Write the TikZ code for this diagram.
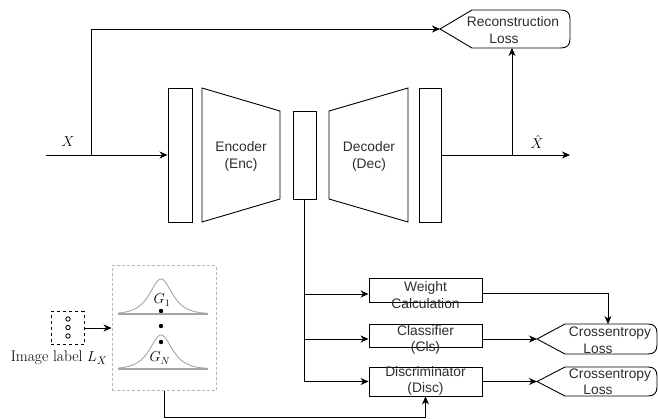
\documentclass[tikz,border=0pt]{standalone}
\usepackage{fontspec}
\usetikzlibrary{positioning, arrows.meta}
\newfontfamily\boxfont{Liberation Sans}
\definecolor{txtgray}{RGB}{45,45,45}
\definecolor{dashgray}{RGB}{185,185,185}
\definecolor{curvegray}{RGB}{165,165,165}

\tikzset{
    blk/.style={draw=black, line width=0.9pt, inner sep=0pt},
    blkline/.style={draw=black, line width=0.9pt},
    arr/.style={line width=0.9pt, -{Stealth[length=8pt, width=7pt, inset=2.5pt]}},
    txt/.style={font=\boxfont\fontsize{13.8}{16.5}\selectfont, align=center, text=txtgray, inner sep=0pt},
    mathlbl/.style={font=\fontsize{14}{17}\selectfont, inner sep=0pt},
    curve/.style={draw=curvegray, line width=0.9pt},
    baseln/.style={draw=curvegray, line width=1.6pt}
}

\begin{document}
\begin{tikzpicture}[x=1pt, y=-1pt]
    \useasboundingbox (0,0) rectangle (658,418);

    % autoencoder
    \node[blk, minimum width=24, minimum height=134] (inblk) at (180,155) {};
    \draw[blkline] (202,88) -- (280,111) -- (280,199) -- (202,222) -- cycle;
    \node[txt] (enc) at (241,156.5) {Encoder\\(Enc)};
    \node[blk, minimum width=23, minimum height=88] (zblk) at (304.5,155) {};
    \draw[blkline] (329,111) -- (408,88) -- (408,222) -- (329,199) -- cycle;
    \node[txt] (dec) at (369,156.5) {Decoder\\(Dec)};
    \node[blk, minimum width=22, minimum height=134] (outblk) at (430,155) {};

    \coordinate (xin) at (46,155);
    \coordinate (xsplit) at (91,155);
    \coordinate (xout) at (570,155);
    \coordinate (rsplit) at (512,155);
    \node[mathlbl] (xlbl) at (68,142) {$X$};
    \node[mathlbl] (xhatlbl) at (537,142) {$\hat{X}$};

    % reconstruction loss
    \draw[blkline] (440,29) -- (472,10) -- (561,10) .. controls (567,10) and (570,13) .. (570,19)
        -- (570,39) .. controls (570,45) and (567,48) .. (561,48) -- (472,48) -- cycle;
    \coordinate (recontip) at (440,29);
    \coordinate (reconbot) at (512,48);
    \node[txt] (recon) at (513,30) {Reconstruction\\\hspace*{-18pt}Loss};

    \draw[arr] (xin) -- (inblk.west);
    \draw[arr] (xsplit) |- (recontip);
    \draw[arr] (outblk.east) -- (xout);
    \draw[arr] (rsplit) -- (reconbot);

    % heads
    \node[blk, minimum width=113, minimum height=24] (wblk) at (425.5,290) {};
    \node[txt] (wtxt) at (425.5,295) {Weight\\Calculation};
    \node[blk, minimum width=113, minimum height=23] (cblk) at (425.5,335.5) {};
    \node[txt] (ctxt) at (425.5,340) {Classifier\\(Cls)};
    \node[blk, minimum width=113, minimum height=29] (dblk) at (425.5,381.5) {};
    \node[txt] (dtxt) at (425.5,381) {Discriminator\\(Disc)};

    \coordinate (wbr) at (304.5,294);
    \coordinate (cbr) at (304.5,339);
    \draw[arr] (zblk.south) |- (dblk.west);
    \draw[arr] (wbr) -- (wbr -| wblk.west);
    \draw[arr] (cbr) -- (cbr -| cblk.west);

    % crossentropy losses
    \draw[blkline] (537,339) -- (565,324) -- (648,324) .. controls (654,324) and (657,327) .. (657,333)
        -- (657,345) .. controls (657,351) and (654,354) .. (648,354) -- (565,354) -- cycle;
    \draw[blkline] (537,381.5) -- (565,367) -- (648,367) .. controls (654,367) and (657,370) .. (657,376)
        -- (657,387) .. controls (657,393) and (654,396) .. (648,396) -- (565,396) -- cycle;
    \node[txt] (ce1) at (610,340) {Crossentropy\\\hspace*{-24pt}Loss};
    \node[txt] (ce2) at (610,381.5) {Crossentropy\\\hspace*{-24pt}Loss};
    \coordinate (ce1tip) at (537,339);
    \coordinate (ce1top) at (608,324);
    \coordinate (ce2tip) at (537,381.5);
    \coordinate (wout) at (482,293);

    \draw[arr] (wout) -| (ce1top);
    \draw[arr] (cbr -| cblk.east) -- (ce1tip);
    \draw[arr] (dblk.east) -- (ce2tip);

    % gaussian prior
    \node[draw=dashgray, line width=0.9pt, dash pattern=on 3pt off 2pt, minimum width=104, minimum height=125, inner sep=0pt] (gbox) at (164,328) {};
    \draw[baseln] (118,314) -- (208,314);
    \draw[baseln] (118,369) -- (208,369);
    \draw[curve] plot[domain=118:208, samples=70] (\x, {314-35/cosh((\x-161)/10)});
    \draw[curve] plot[domain=118:208, samples=70] (\x, {369-34/cosh((\x-161)/10)});
    \fill (161,311) circle (2.2);
    \fill (161,326) circle (2.2);
    \fill (161,342) circle (2.2);
    \node[mathlbl] (g1) at (162,300) {$G_1$};
    \node[mathlbl] (gn) at (160,358) {$G_N$};

    % image label
    \node[draw, line width=0.9pt, dashed, minimum width=33, minimum height=33, inner sep=0pt] (lblbox) at (67.5,328) {};
    \draw[line width=0.9pt] (68,319) circle (2.2);
    \draw[line width=0.9pt] (68,327.5) circle (2.2);
    \draw[line width=0.9pt] (68,336) circle (2.2);
    \node[font=\fontsize{15.5}{18}\selectfont, inner sep=0pt] (lbltxt) at (59,358) {Image label $L_X$};

    \draw[arr] (lblbox.east) -- (gbox.west);
    \draw[arr] (gbox.south) -- ++(0,26) -| (dblk.south);

\end{tikzpicture}
\end{document}
